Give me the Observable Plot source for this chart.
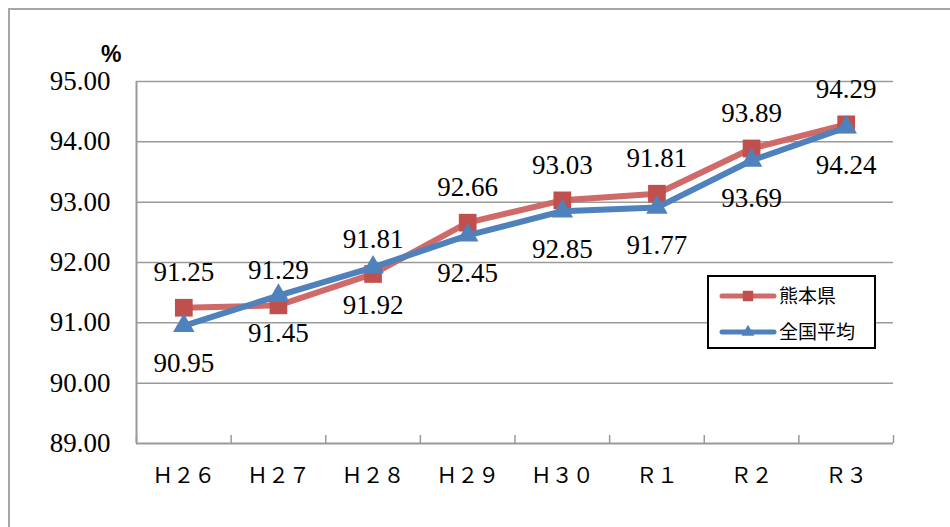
<!DOCTYPE html>
<html>
<head>
<meta charset="utf-8">
<script src="https://cdn.jsdelivr.net/npm/d3@7"></script>
<script src="https://cdn.jsdelivr.net/npm/@observablehq/plot@0.6"></script>
<style>
  html, body { margin: 0; padding: 0; background: #fff; }
  #wrap { position: relative; width: 950px; height: 527px; overflow: hidden; background: #fff; }
  #frame { position: absolute; left: 8px; top: 8px; width: 950px; height: 530px;
           border-left: 2px solid #a6a6a6; border-top: 2px solid #a6a6a6; box-sizing: border-box; }
  #chart { position: absolute; left: 0; top: 0; }
  #chart svg text { font-family: "Liberation Serif", "Times New Roman", serif; }
  #chart svg g.xlab text { font-family: "Noto Sans CJK JP", sans-serif; }
  #unit { position: absolute; left: 101px; top: 41px; font: bold 23px "Liberation Sans", Arial, sans-serif; color: #000; }
  #legend { position: absolute; left: 707px; top: 275px; width: 169px; height: 74px; box-sizing: border-box;
            border: 2px solid #000; background: #fff; font-family: "Noto Sans CJK JP", sans-serif; font-size: 19px; color: #000; }
  .row { position: absolute; left: 0; height: 24px; }
  .row svg { position: absolute; left: 10px; top: 0; }
  .row span { position: absolute; left: 70px; top: -2px; white-space: nowrap; line-height: 26px; }
</style>
</head>
<body>
<div id="wrap">
  <div id="frame"></div>
  <div id="chart"></div>
  <div id="unit">%</div>
  <div id="legend"></div>
</div>
<script>
const categories = ["Ｈ２６", "Ｈ２７", "Ｈ２８", "Ｈ２９", "Ｈ３０", "Ｒ１", "Ｒ２", "Ｒ３"];
const kumamoto = [91.25, 91.29, 91.81, 92.66, 93.03, 93.14, 93.89, 94.29];
const national = [90.95, 91.45, 91.92, 92.45, 92.85, 92.91, 93.69, 94.24];
const kumamotoLabels = ["91.25", "91.29", "91.81", "92.66", "93.03", "91.81", "93.89", "94.29"];
const nationalLabels = ["90.95", "91.45", "91.92", "92.45", "92.85", "91.77", "93.69", "94.24"];
const yTicks = [89, 90, 91, 92, 93, 94, 95];
const seriesNames = ["熊本県", "全国平均"];
const seriesColors = ["#c0504d", "#4f81bd"];
const lineColors = ["#cf6a68", "#4f81bd"];

const rows = categories.map((c, i) => ({
  pos: i + 0.5, cat: c, k: kumamoto[i], n: national[i], kl: kumamotoLabels[i], nl: nationalLabels[i]
}));
const boundaries = d3.range(categories.length + 1);
const centers = rows.map(r => r.pos);
const serif = "Liberation Serif";

const chart = Plot.plot({
  width: 950,
  height: 527,
  marginLeft: 136,
  marginRight: 57,
  marginTop: 81,
  marginBottom: 84,
  style: { background: "transparent", fontFamily: serif, fontSize: "27px", color: "#000" },
  x: { domain: [0, categories.length] },
  y: { domain: [yTicks[0], yTicks[yTicks.length - 1]] },
  marks: [
    Plot.gridY(yTicks.slice(1), { stroke: "#9a9a9a", strokeOpacity: 1, strokeWidth: 1.5 }),
    Plot.ruleY([yTicks[0]], { stroke: "#9a9a9a", strokeWidth: 2 }),
    Plot.ruleX([0], { stroke: "#9a9a9a", strokeWidth: 2 }),
    Plot.axisY(yTicks, { tickSize: 0, tickPadding: 26, tickFormat: d3.format(".2f"), label: null,
      fontFamily: serif, fontSize: 27 }),
    Plot.axisX(boundaries, { tickSize: -8, tickFormat: () => "", stroke: "#9a9a9a", strokeWidth: 1.5, label: null }),
    Plot.axisX(centers, { tickSize: 0, tickPadding: 25, tickFormat: d => categories[Math.floor(d)], label: null,
      fontFamily: "Noto Sans CJK JP", fontSize: 21, className: "xlab" }),
    Plot.line(rows, { x: "pos", y: "k", stroke: lineColors[0], strokeWidth: 6 }),
    Plot.dot(rows, { x: "pos", y: "k", symbol: "square", r: 10, fill: seriesColors[0], stroke: "none" }),
    Plot.line(rows, { x: "pos", y: "n", stroke: lineColors[1], strokeWidth: 6 }),
    Plot.dot(rows, { x: "pos", y: "n", symbol: "triangle", r: 8, fill: seriesColors[1], stroke: "none" }),
    Plot.text(rows, { x: "pos", y: "k", text: "kl", dy: -35, fontSize: 27, fontFamily: serif, fill: "#000" }),
    Plot.text(rows, { x: "pos", y: "n", text: "nl", dy: 38, fontSize: 27, fontFamily: serif, fill: "#000" })
  ]
});
document.getElementById("chart").appendChild(chart);

// legend
const legend = d3.select("#legend");
const symbols = [d3.symbolSquare, d3.symbolTriangle];
const rowTops = [7, 43];
seriesNames.forEach((name, i) => {
  const row = legend.append("div").attr("class", "row").style("top", rowTops[i] + "px").style("width", "160px");
  const svg = row.append("svg").attr("width", 58).attr("height", 24);
  svg.append("line").attr("x1", 3).attr("x2", 55).attr("y1", 12).attr("y2", 12)
    .attr("stroke", lineColors[i]).attr("stroke-width", 5).attr("stroke-linecap", "round");
  svg.append("path").attr("transform", "translate(29,12)")
    .attr("d", d3.symbol(symbols[i], i === 0 ? 110 : 70)()).attr("fill", seriesColors[i]);
  row.append("span").text(name);
});
</script>
</body>
</html>
